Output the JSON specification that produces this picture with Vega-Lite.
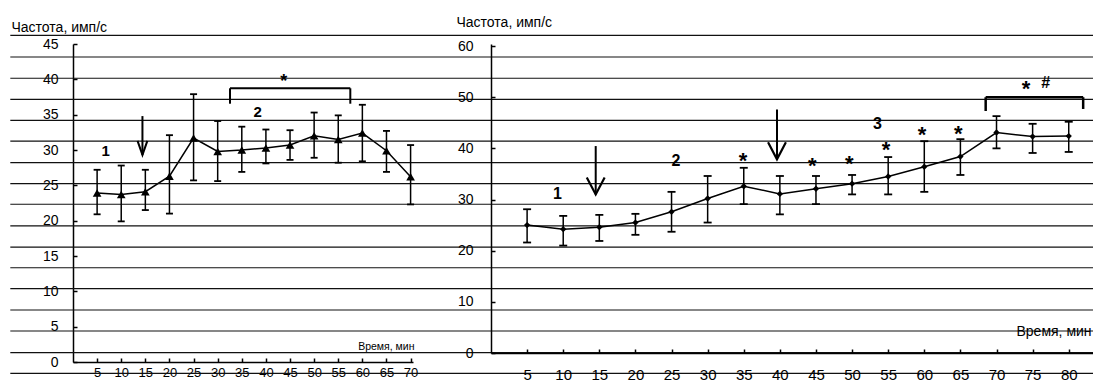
{
  "$schema": "https://vega.github.io/schema/vega-lite/v6.json",
  "background": "white",
  "padding": {"left": 9, "top": 15, "right": 0, "bottom": 0},
  "spacing": 78,
  "bounds": "flush",
  "config": {
    "font": "Liberation Sans",
    "view": {"stroke": null},
    "axis": {"domainColor": "#000", "domainWidth": 1.5, "tickColor": "#000", "tickWidth": 1.5, "labelColor": "#000", "titleColor": "#000", "grid": false, "titleFontWeight": "normal", "labelFlush": false, "labelOverlap": false, "labelBound": false}
  },
  "datasets": {
    "lines": [{"v": 46.23}, {"v": 43.16}, {"v": 40.15}, {"v": 37.17}, {"v": 34.2}, {"v": 31.27}, {"v": 28.2}, {"v": 25.23}, {"v": 22.32}, {"v": 19.25}, {"v": 16.27}, {"v": 13.34}, {"v": 10.37}, {"v": 7.36}, {"v": 4.39}, {"v": 1.32}, {"v": -1.6}],
    "left": [
      {"t": 5, "m": 23.9, "lo": 20.9, "hi": 27.2},
      {"t": 10, "m": 23.7, "lo": 19.9, "hi": 27.8},
      {"t": 15, "m": 24.1, "lo": 21.5, "hi": 27.2},
      {"t": 20, "m": 26.3, "lo": 21.0, "hi": 32.1},
      {"t": 25, "m": 31.7, "lo": 25.7, "hi": 37.9},
      {"t": 30, "m": 29.8, "lo": 25.6, "hi": 34.1},
      {"t": 35, "m": 30.0, "lo": 26.9, "hi": 33.3},
      {"t": 40, "m": 30.3, "lo": 28.1, "hi": 32.9},
      {"t": 45, "m": 30.7, "lo": 28.6, "hi": 32.8},
      {"t": 50, "m": 32.0, "lo": 28.9, "hi": 35.3},
      {"t": 55, "m": 31.5, "lo": 28.2, "hi": 34.9},
      {"t": 60, "m": 32.4, "lo": 28.4, "hi": 36.4},
      {"t": 65, "m": 29.9, "lo": 26.9, "hi": 32.7},
      {"t": 70, "m": 26.2, "lo": 22.3, "hi": 30.7}
    ],
    "right": [
      {"t": 5, "m": 25.0, "lo": 21.6, "hi": 28.1},
      {"t": 10, "m": 24.2, "lo": 21.0, "hi": 26.8},
      {"t": 15, "m": 24.6, "lo": 21.9, "hi": 27.0},
      {"t": 20, "m": 25.5, "lo": 23.1, "hi": 27.2},
      {"t": 25, "m": 27.6, "lo": 23.7, "hi": 31.5},
      {"t": 30, "m": 30.2, "lo": 25.5, "hi": 34.6},
      {"t": 35, "m": 32.6, "lo": 29.1, "hi": 36.2},
      {"t": 40, "m": 31.1, "lo": 27.1, "hi": 34.6},
      {"t": 45, "m": 32.1, "lo": 29.1, "hi": 34.6},
      {"t": 50, "m": 33.1, "lo": 31.0, "hi": 34.8},
      {"t": 55, "m": 34.5, "lo": 31.0, "hi": 38.3},
      {"t": 60, "m": 36.4, "lo": 31.5, "hi": 41.4},
      {"t": 65, "m": 38.4, "lo": 34.8, "hi": 41.8},
      {"t": 70, "m": 43.1, "lo": 40.0, "hi": 46.3},
      {"t": 75, "m": 42.3, "lo": 39.1, "hi": 44.8},
      {"t": 80, "m": 42.4, "lo": 39.3, "hi": 45.2}
    ],
    "numL": [{"x": 6.8, "y": 29.9, "s": "1"}, {"x": 38.3, "y": 35.4, "s": "2"}],
    "starL": [{"x": 43.7, "y": 40.3, "s": "*"}],
    "bracketL": [
      {"x": 32.55, "x2": 57.5, "y": 38.73, "y2": 38.73},
      {"x": 32.55, "x2": 32.55, "y": 38.73, "y2": 36.55},
      {"x": 57.5, "x2": 57.5, "y": 38.73, "y2": 36.55}
    ],
    "arrowL": [{"x": 14.4, "top": 34.8, "tip": 29.3}],
    "numR": [{"x": 9.2, "y": 31.0, "s": "1"}, {"x": 25.6, "y": 37.5, "s": "2"}, {"x": 53.5, "y": 44.8, "s": "3"}, {"x": 76.8, "y": 52.8, "s": "#"}],
    "starR": [
      {"x": 34.9, "y": 38.7, "s": "*"},
      {"x": 44.5, "y": 37.7, "s": "*"},
      {"x": 49.6, "y": 38.2, "s": "*"},
      {"x": 54.7, "y": 40.8, "s": "*"},
      {"x": 59.7, "y": 43.8, "s": "*"},
      {"x": 64.7, "y": 44.0, "s": "*"},
      {"x": 74.1, "y": 52.8, "s": "*"}
    ],
    "bracketR": [
      {"x": 68.5, "x2": 82.0, "y": 50.0, "y2": 50.0},
      {"x": 68.5, "x2": 68.5, "y": 50.0, "y2": 47.3},
      {"x": 82.0, "x2": 82.0, "y": 50.0, "y2": 47.7}
    ],
    "arrowR": [{"x": 14.5, "top": 40.45, "tip": 31.0}, {"x": 39.6, "top": 47.6, "tip": 37.85}]
  },
  "hconcat": [
    {
      "width": 340,
      "height": 318,
      "layer": [
        {
          "data": {"name": "left"},
          "mark": {"type": "line", "color": "#000", "strokeWidth": 1.5},
          "encoding": {
            "x": {"field": "t", "type": "quantitative", "title": "Время, мин", "scale": {"domain": [0, 70.5], "nice": false, "zero": false},
              "axis": {"values": [5, 10, 15, 20, 25, 30, 35, 40, 45, 50, 55, 60, 65, 70], "tickCount": 30, "tickSize": -4, "labelPadding": 8, "labelFontSize": 13, "labelOverlap": false,
                "titleFontSize": 10.5, "titleAlign": "right", "titleBaseline": "alphabetic", "titleAnchor": null, "titleX": 341, "titleY": -13}},
            "y": {"field": "m", "type": "quantitative", "title": "Частота, имп/с", "scale": {"domain": [0, 45], "nice": false, "zero": false},
              "axis": {"values": [0, 5, 10, 15, 20, 25, 30, 35, 40, 45], "tickCount": 30, "tickSize": -4, "labelPadding": 19, "labelFontSize": 14, "labelOverlap": false,
                "titleFontSize": 14, "titleAngle": 0, "titleAlign": "left", "titleBaseline": "alphabetic", "titleAnchor": null, "titleX": -62, "titleY": -13}}
          }
        },
        {
          "data": {"name": "lines"},
          "mark": {"type": "rule", "color": "#111", "strokeWidth": 1.2, "clip": false},
          "encoding": {
            "y": {"field": "v", "type": "quantitative", "title": "Частота, имп/с"},
            "x": {"datum": -13, "type": "quantitative", "title": "Время, мин"},
            "x2": {"datum": 212}
          }
        },
        {
          "data": {"name": "left"},
          "mark": {"type": "errorbar", "color": "#000", "rule": {"strokeWidth": 1.5}, "ticks": {"size": 7, "thickness": 1.8, "opacity": 1}},
          "encoding": {
            "x": {"field": "t", "type": "quantitative", "title": "Время, мин"},
            "y": {"field": "lo", "type": "quantitative", "title": "Частота, имп/с"},
            "y2": {"field": "hi"}
          }
        },
        {
          "data": {"name": "left"},
          "mark": {"type": "point", "shape": "triangle-up", "filled": true, "color": "#000", "opacity": 1, "size": 75},
          "encoding": {
            "x": {"field": "t", "type": "quantitative", "title": "Время, мин"},
            "y": {"field": "m", "type": "quantitative", "title": "Частота, имп/с"}
          }
        },
        {
          "data": {"name": "bracketL"},
          "mark": {"type": "rule", "color": "#000", "strokeWidth": 2},
          "encoding": {
            "x": {"field": "x", "type": "quantitative", "title": "Время, мин"},
            "x2": {"field": "x2"},
            "y": {"field": "y", "type": "quantitative", "title": "Частота, имп/с"},
            "y2": {"field": "y2"}
          }
        },
        {
          "data": {"name": "arrowL"},
          "mark": {"type": "rule", "color": "#000", "strokeWidth": 2},
          "encoding": {
            "x": {"field": "x", "type": "quantitative", "title": "Время, мин"},
            "y": {"field": "top", "type": "quantitative", "title": "Частота, имп/с"},
            "y2": {"field": "tip"}
          }
        },
        {
          "data": {"name": "arrowL"},
          "mark": {"type": "point", "shape": "M-0.7,-2L0,0L0.7,-2", "filled": false, "color": "#000", "opacity": 1, "strokeWidth": 2, "size": 196},
          "encoding": {
            "x": {"field": "x", "type": "quantitative", "title": "Время, мин"},
            "y": {"field": "tip", "type": "quantitative", "title": "Частота, имп/с"}
          }
        },
        {
          "data": {"name": "numL"},
          "mark": {"type": "text", "fontSize": 15, "fontWeight": "bold", "color": "#000", "baseline": "middle", "align": "center"},
          "encoding": {
            "x": {"field": "x", "type": "quantitative", "title": "Время, мин"},
            "y": {"field": "y", "type": "quantitative", "title": "Частота, имп/с"},
            "text": {"field": "s"}
          }
        },
        {
          "data": {"name": "starL"},
          "mark": {"type": "text", "fontSize": 18, "fontWeight": "bold", "color": "#000", "baseline": "middle", "align": "center", "dy": 5},
          "encoding": {
            "x": {"field": "x", "type": "quantitative", "title": "Время, мин"},
            "y": {"field": "y", "type": "quantitative", "title": "Частота, имп/с"},
            "text": {"field": "s"}
          }
        }
      ]
    },
    {
      "width": 603,
      "height": 309,
      "layer": [
        {
          "data": {"name": "right"},
          "mark": {"type": "line", "color": "#000", "strokeWidth": 1.5},
          "encoding": {
            "x": {"field": "t", "type": "quantitative", "title": "Время, мин", "scale": {"domain": [0, 83.5], "nice": false, "zero": false},
              "axis": {"values": [5, 10, 15, 20, 25, 30, 35, 40, 45, 50, 55, 60, 65, 70, 75, 80], "tickCount": 30, "tickSize": -4, "labelPadding": 18, "labelFontSize": 15, "labelOverlap": false,
                "titleFontSize": 14, "titleAlign": "left", "titleBaseline": "alphabetic", "titleAnchor": null, "titleX": 525, "titleY": -18}},
            "y": {"field": "m", "type": "quantitative", "title": "Частота, имп/с", "scale": {"domain": [0, 60.4], "nice": false, "zero": false},
              "axis": {"values": [0, 10, 20, 30, 40, 50, 60], "tickCount": 30, "tickSize": -4, "labelPadding": 22, "labelFontSize": 14, "labelOverlap": false,
                "titleFontSize": 14, "titleAngle": 0, "titleAlign": "left", "titleBaseline": "alphabetic", "titleAnchor": null, "titleX": -35, "titleY": -18}}
          }
        },
        {
          "data": {"name": "right"},
          "mark": {"type": "errorbar", "color": "#000", "rule": {"strokeWidth": 1.5}, "ticks": {"size": 8, "thickness": 1.8, "opacity": 1}},
          "encoding": {
            "x": {"field": "t", "type": "quantitative", "title": "Время, мин"},
            "y": {"field": "lo", "type": "quantitative", "title": "Частота, имп/с"},
            "y2": {"field": "hi"}
          }
        },
        {
          "data": {"name": "right"},
          "mark": {"type": "point", "shape": "diamond", "filled": true, "color": "#000", "opacity": 1, "size": 40},
          "encoding": {
            "x": {"field": "t", "type": "quantitative", "title": "Время, мин"},
            "y": {"field": "m", "type": "quantitative", "title": "Частота, имп/с"}
          }
        },
        {
          "data": {"name": "bracketR"},
          "mark": {"type": "rule", "color": "#000", "strokeWidth": 2.5},
          "encoding": {
            "x": {"field": "x", "type": "quantitative", "title": "Время, мин"},
            "x2": {"field": "x2"},
            "y": {"field": "y", "type": "quantitative", "title": "Частота, имп/с"},
            "y2": {"field": "y2"}
          }
        },
        {
          "data": {"name": "arrowR"},
          "mark": {"type": "rule", "color": "#000", "strokeWidth": 2},
          "encoding": {
            "x": {"field": "x", "type": "quantitative", "title": "Время, мин"},
            "y": {"field": "top", "type": "quantitative", "title": "Частота, имп/с"},
            "y2": {"field": "tip"}
          }
        },
        {
          "data": {"name": "arrowR"},
          "mark": {"type": "point", "shape": "M-1.05,-2L0,0L1.05,-2", "filled": false, "color": "#000", "opacity": 1, "strokeWidth": 2.2, "size": 289},
          "encoding": {
            "x": {"field": "x", "type": "quantitative", "title": "Время, мин"},
            "y": {"field": "tip", "type": "quantitative", "title": "Частота, имп/с"}
          }
        },
        {
          "data": {"name": "numR"},
          "mark": {"type": "text", "fontSize": 16, "fontWeight": "bold", "color": "#000", "baseline": "middle", "align": "center"},
          "encoding": {
            "x": {"field": "x", "type": "quantitative", "title": "Время, мин"},
            "y": {"field": "y", "type": "quantitative", "title": "Частота, имп/с"},
            "text": {"field": "s"}
          }
        },
        {
          "data": {"name": "starR"},
          "mark": {"type": "text", "fontSize": 22, "fontWeight": "bold", "color": "#000", "baseline": "middle", "align": "center", "dy": 6},
          "encoding": {
            "x": {"field": "x", "type": "quantitative", "title": "Время, мин"},
            "y": {"field": "y", "type": "quantitative", "title": "Частота, имп/с"},
            "text": {"field": "s"}
          }
        }
      ]
    }
  ]
}
